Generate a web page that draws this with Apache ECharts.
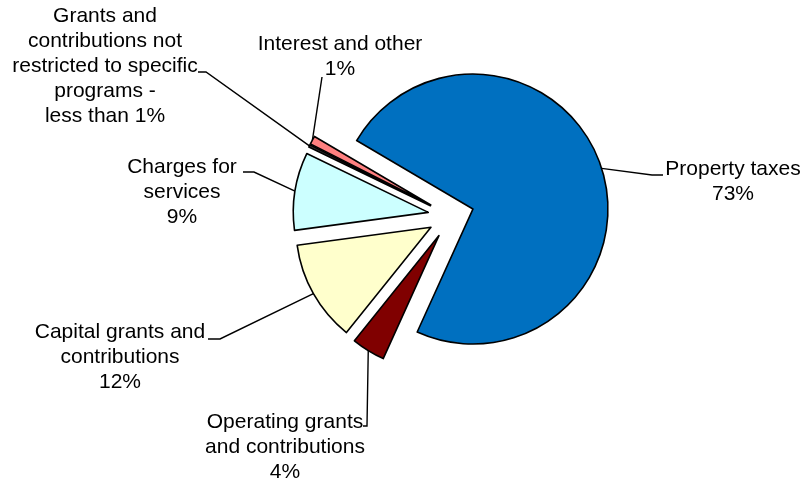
<!DOCTYPE html>
<html>
<head>
<meta charset="utf-8">
<script src="https://cdn.jsdelivr.net/npm/echarts@6/dist/echarts.min.js"></script>
<style>
  html, body { margin: 0; padding: 0; background: #ffffff; }
  #chart { width: 803px; height: 480px; }
</style>
</head>
<body>
<div id="chart"></div>
<script>
// Revenue sources, share of total (percent)
const categories = [
  'Property taxes',
  'Operating grants and contributions',
  'Capital grants and contributions',
  'Charges for services',
  'Grants and contributions not restricted to specific programs',
  'Interest and other'
];
const values = [73.3, 4.0, 12.1, 9.3, 0.3, 1.0];

// Label wording, broken into lines; the percentage is appended from the values
const labelNames = [
  'Property taxes',
  'Operating grants\nand contributions',
  'Capital grants and\ncontributions',
  'Charges for\nservices',
  'Grants and\ncontributions not\nrestricted to specific\nprograms -',
  'Interest and other'
];

const sliceColors = ['#0070C0', '#800000', '#FFFFCC', '#CCFFFF', '#333333', '#FF8080'];

// Where each label block sits and where its leader line bends and ends
const labelPlacement = [
  { x: 733, y: 182, hook: [[652, 175], [663, 175]] },
  { x: 285, y: 447, hook: [[367, 426], [363, 426]] },
  { x: 120, y: 357, hook: [[220, 339], [208, 339]] },
  { x: 182, y: 192, hook: [[254, 172], [243, 172]] },
  { x: 105, y: 66,  hook: [[206, 72], [198, 72]] },
  { x: 340, y: 57,  hook: [[322, 77], [322, 77]] }
];

const explode = 23;
const pieCenter = [451, 216];
const pieRadius = 135;
const pieStart = 149.5;
const total = values.reduce((a, b) => a + b, 0);

function percentText(v) {
  const p = v / total * 100;
  return p < 1 ? 'less than 1%' : Math.round(p) + '%';
}

const chart = echarts.init(document.getElementById('chart'), null, { renderer: 'canvas' });

// Exploded slices
const sliceData = categories.map((name, i) => ({
  name: name,
  value: values[i],
  selected: true,
  itemStyle: { color: sliceColors[i] }
}));

// Same layout again, carrying only the labels and leader lines
const labelData = categories.map((name, i) => ({
  name: name,
  value: values[i],
  label: { formatter: labelNames[i] + '\n' + percentText(values[i]) }
}));

chart.setOption({
  animation: false,
  backgroundColor: '#ffffff',
  series: [{
    type: 'pie',
    center: pieCenter,
    radius: pieRadius,
    startAngle: pieStart,
    clockwise: true,
    selectedMode: 'multiple',
    selectedOffset: explode,
    silent: true,
    itemStyle: { borderColor: '#000000', borderWidth: 1.6 },
    label: { show: false },
    labelLine: { show: false },
    emphasis: { disabled: true },
    select: { itemStyle: { borderColor: '#000000', borderWidth: 1.6 } },
    data: sliceData
  }, {
    type: 'pie',
    center: pieCenter,
    radius: pieRadius,
    startAngle: pieStart,
    clockwise: true,
    selectedMode: false,
    silent: true,
    avoidLabelOverlap: false,
    itemStyle: { color: 'rgba(0,0,0,0)', borderWidth: 0 },
    label: {
      show: true,
      position: 'outside',
      color: '#000000',
      fontFamily: '"Liberation Sans", Arial, sans-serif',
      fontSize: 21,
      lineHeight: 25,
      align: 'center'
    },
    labelLine: {
      show: true,
      length: 10,
      length2: 10,
      lineStyle: { color: '#000000', width: 1.4 }
    },
    emphasis: { disabled: true },
    labelLayout: function (params) {
      const i = params.dataIndex;
      const p = labelPlacement[i];
      const lay = chart.getModel().getSeriesByIndex(0).getData().getItemLayout(i);
      const mid = (lay.startAngle + lay.endAngle) / 2;
      const rr = lay.r + explode;
      const anchor = [lay.cx + rr * Math.cos(mid), lay.cy + rr * Math.sin(mid)];
      return {
        x: p.x,
        y: p.y,
        align: 'center',
        verticalAlign: 'middle',
        labelLinePoints: [anchor, p.hook[0], p.hook[1]]
      };
    },
    data: labelData
  }]
});
</script>
</body>
</html>
